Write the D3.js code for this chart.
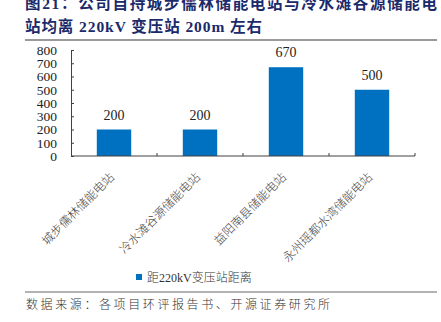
<!DOCTYPE html>
<html>
<head>
<meta charset="utf-8">
<script src="https://cdn.jsdelivr.net/npm/d3@7/dist/d3.min.js"></script>
<style>
  html, body { margin: 0; padding: 0; background: #fff; }
  svg { display: block; }
</style>
</head>
<body>
<svg id="chart" width="441" height="322"></svg>
<script>
// Station names and distance to the 220kV substation (m)
const categories = ["城步儒林储能电站", "冷水滩谷源储能电站", "益阳南县储能电站", "永州瑶都水湾储能电站"];
const distances = [200, 200, 670, 500];
const yTicks = [0, 100, 200, 300, 400, 500, 600, 700, 800];
const seriesName = "距220kV变压站距离";
const titleLines = ["图21：公司自持城步儒林储能电站与冷水滩谷源储能电", "站均离 220kV 变压站 200m 左右"];
const sourceText = "数据来源：各项目环评报告书、开源证券研究所";

const svg = d3.select("#chart");
const serif = "'Liberation Serif', 'Times New Roman', 'Noto Sans CJK SC', serif";
const cjk = "'Liberation Serif', 'Noto Sans CJK SC', sans-serif";

// Title block (two lines, first one justified to the rule width)
const title = svg.append("g").attr("fill", "#1b2a6b").attr("font-weight", "bold")
  .attr("font-family", cjk).attr("font-size", 15.5);
title.append("text").attr("x", 25).attr("y", 9).text(titleLines[0])
  .attr("textLength", 412).attr("lengthAdjust", "spacing");
title.append("text").attr("x", 25).attr("y", 31.5).text(titleLines[1])
  .attr("textLength", 237).attr("lengthAdjust", "spacing");

svg.append("line").attr("x1", 25).attr("x2", 437).attr("y1", 40).attr("y2", 40)
  .attr("stroke", "#9a9a9a").attr("stroke-width", 2);

// Plot area
const plotL = 71, plotR = 415, plotT = 50, plotB = 156;

const x = d3.scaleBand().domain(categories).range([plotL, plotR]).paddingInner(0).paddingOuter(0);
const y = d3.scaleLinear().domain([0, 800]).range([plotB, plotT]);
const barW = x.bandwidth() * 0.4;

svg.append("g").selectAll("rect").data(categories).join("rect")
  .attr("x", (d) => x(d) + (x.bandwidth() - barW) / 2)
  .attr("width", barW)
  .attr("y", (d, i) => y(distances[i]))
  .attr("height", (d, i) => y(0) - y(distances[i]))
  .attr("fill", "#0070c0");

// Value labels
svg.append("g").attr("font-family", serif).attr("font-size", 14).attr("fill", "#222")
  .attr("text-anchor", "middle")
  .selectAll("text").data(categories).join("text")
  .attr("x", (d) => x(d) + x.bandwidth() / 2)
  .attr("y", (d, i) => y(distances[i]) - 10)
  .text((d, i) => distances[i]);

// Y axis with inward ticks
const yAxis = d3.axisLeft(y).tickValues(yTicks).tickSizeInner(-3).tickSizeOuter(0).tickPadding(14);
const gy = svg.append("g").attr("transform", `translate(${plotL},0)`).call(yAxis);
gy.select(".domain").attr("stroke", "#404040");
gy.selectAll(".tick line").attr("stroke", "#404040");
gy.selectAll(".tick text").attr("font-family", serif).attr("font-size", 13.5).attr("fill", "#222");

// X axis: category boundaries with inward ticks
const gx = svg.append("g");
gx.append("line").attr("x1", plotL).attr("x2", plotR).attr("y1", plotB).attr("y2", plotB)
  .attr("stroke", "#404040");
const bounds = categories.map((d) => x(d)).concat([plotR]).slice(1);
gx.selectAll("line.b").data(bounds).join("line").attr("class", "b")
  .attr("x1", (d) => d).attr("x2", (d) => d)
  .attr("y1", plotB).attr("y2", plotB - 3)
  .attr("stroke", "#404040");

// Rotated category labels
svg.append("g").attr("font-family", "'Noto Sans CJK SC', sans-serif").attr("font-size", 12)
  .attr("font-weight", 300).attr("fill", "#444")
  .selectAll("text").data(categories).join("text")
  .attr("text-anchor", "end")
  .attr("dominant-baseline", "central")
  .attr("transform", (d) => `translate(${x(d) + x.bandwidth() / 2 - 3},174) rotate(-45)`)
  .text((d) => d);

// Legend
svg.append("rect").attr("x", 136).attr("y", 274).attr("width", 6).attr("height", 6).attr("fill", "#0070c0");
svg.append("text").attr("x", 147).attr("y", 282).attr("font-family", cjk).attr("font-size", 12)
  .attr("font-weight", 300).attr("fill", "#333").text(seriesName);

// Footer
svg.append("line").attr("x1", 25).attr("x2", 437).attr("y1", 292).attr("y2", 292)
  .attr("stroke", "#9a9a9a").attr("stroke-width", 1.5);
svg.append("text").attr("x", 26).attr("y", 309).attr("font-family", "'Noto Sans CJK SC', sans-serif")
  .attr("font-size", 12).attr("font-weight", 300).attr("letter-spacing", 2.6).attr("fill", "#333")
  .text(sourceText);
</script>
</body>
</html>
